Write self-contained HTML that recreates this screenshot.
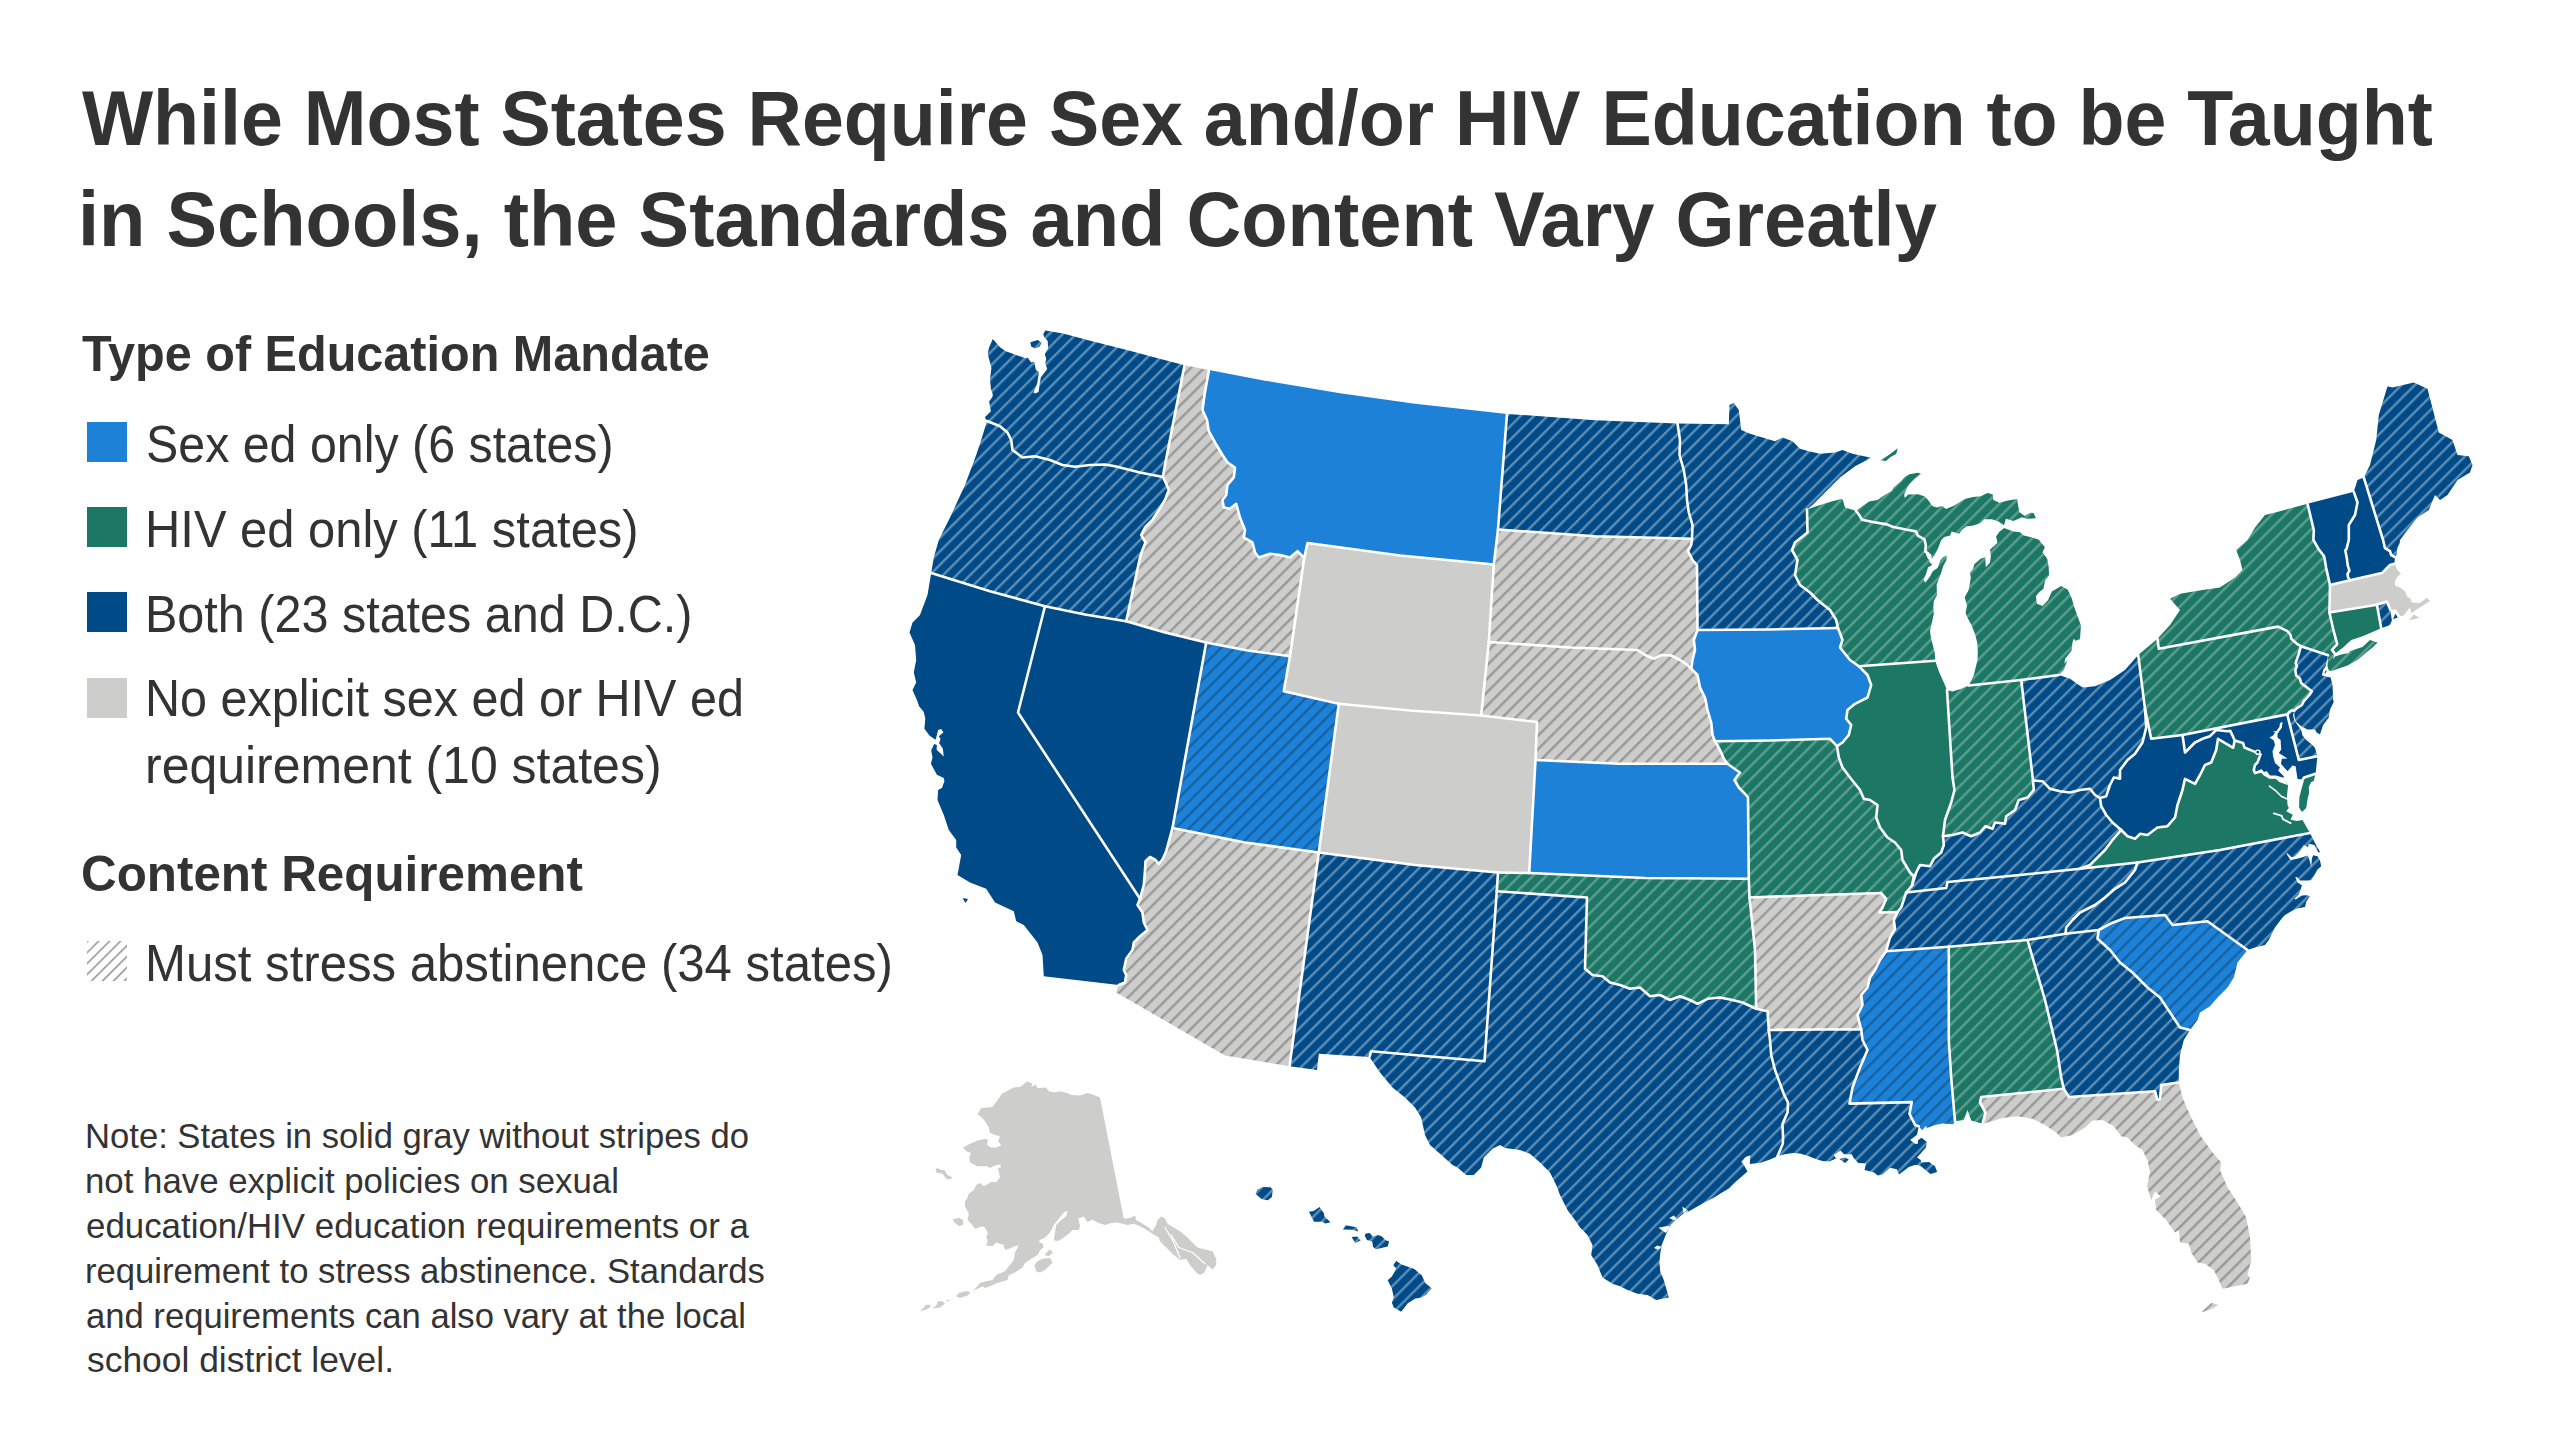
<!DOCTYPE html>
<html lang="en">
<head>
<meta charset="utf-8">
<title>While Most States Require Sex and/or HIV Education to be Taught in Schools, the Standards and Content Vary Greatly</title>
<style>
html,body{margin:0;padding:0;background:#fff}
body{width:2560px;height:1440px;position:relative;overflow:hidden;font-family:"Liberation Sans",sans-serif;color:#333}
.ln{position:absolute;white-space:pre;transform-origin:0 0;margin:0;padding:0;display:block}
h1,h2,p,ul,li{margin:0;padding:0;list-style:none;font-weight:normal}
.sw{position:absolute;left:87px;width:40px;height:40px}
#map{position:absolute;left:0;top:0;width:2560px;height:1440px}
#t1{left:82.00px;top:70.71px;font-size:78.49px;line-height:94.19px;font-weight:bold;transform:scaleX(0.9598)}
#t2{left:78.00px;top:171.71px;font-size:78.49px;line-height:94.19px;font-weight:bold;transform:scaleX(0.9665)}
#h1{left:82.00px;top:323.53px;font-size:50.15px;line-height:60.18px;font-weight:bold;transform:scaleX(0.9687)}
#l1{left:146.00px;top:414.16px;font-size:51.6px;line-height:61.92px;font-weight:normal;transform:scaleX(0.9370)}
#l2{left:145.00px;top:499.16px;font-size:51.6px;line-height:61.92px;font-weight:normal;transform:scaleX(0.9474)}
#l3{left:145.00px;top:584.16px;font-size:51.6px;line-height:61.92px;font-weight:normal;transform:scaleX(0.9404)}
#l4{left:145.00px;top:668.16px;font-size:51.6px;line-height:61.92px;font-weight:normal;transform:scaleX(0.9408)}
#l5{left:145.00px;top:735.16px;font-size:51.6px;line-height:61.92px;font-weight:normal;transform:scaleX(0.9684)}
#h2{left:81.00px;top:843.53px;font-size:50.15px;line-height:60.18px;font-weight:bold;transform:scaleX(0.9846)}
#l6{left:145.00px;top:933.16px;font-size:51.6px;line-height:61.92px;font-weight:normal;transform:scaleX(0.9519)}
#n1{left:85.00px;top:1115.67px;font-size:34.16px;line-height:40.99px;font-weight:normal;transform:scaleX(1.0136)}
#n2{left:85.00px;top:1160.67px;font-size:34.16px;line-height:40.99px;font-weight:normal;transform:scaleX(1.0189)}
#n3{left:86.00px;top:1205.67px;font-size:34.16px;line-height:40.99px;font-weight:normal;transform:scaleX(1.0209)}
#n4{left:85.00px;top:1250.67px;font-size:34.16px;line-height:40.99px;font-weight:normal;transform:scaleX(1.0145)}
#n5{left:86.00px;top:1295.67px;font-size:34.16px;line-height:40.99px;font-weight:normal;transform:scaleX(1.0134)}
#n6{left:87.00px;top:1339.67px;font-size:34.16px;line-height:40.99px;font-weight:normal;transform:scaleX(1.0366)}
</style>
</head>
<body>
<h1><span class="ln" id="t1">While Most States Require Sex and/or HIV Education to be Taught</span><span class="ln" id="t2">in Schools, the Standards and Content Vary Greatly</span></h1>

<section class="legend">
<h2><span class="ln" id="h1">Type of Education Mandate</span></h2>
<ul>
<li><i class="sw" style="top:422px;background:#1d82d7"></i><span class="ln" id="l1">Sex ed only (6 states)</span></li>
<li><i class="sw" style="top:507px;background:#1c7865"></i><span class="ln" id="l2">HIV ed only (11 states)</span></li>
<li><i class="sw" style="top:592px;background:#004b87"></i><span class="ln" id="l3">Both (23 states and D.C.)</span></li>
<li><i class="sw" style="top:677.5px;background:#cdcdcb"></i><span class="ln" id="l4">No explicit sex ed or HIV ed</span><span class="ln" id="l5">requirement (10 states)</span></li>
</ul>
<h2><span class="ln" id="h2">Content Requirement</span></h2>
<ul>
<li><svg class="sw" style="top:941px" width="40" height="40" viewBox="0 0 40 40"><rect width="40" height="40" fill="url(#hatchL)"/></svg><span class="ln" id="l6">Must stress abstinence (34 states)</span></li>
</ul>
</section>

<p class="note"><span class="ln" id="n1">Note: States in solid gray without stripes do</span><span class="ln" id="n2">not have explicit policies on sexual</span><span class="ln" id="n3">education/HIV education requirements or a</span><span class="ln" id="n4">requirement to stress abstinence. Standards</span><span class="ln" id="n5">and requirements can also vary at the local</span><span class="ln" id="n6">school district level.</span></p>

<svg id="map" xmlns="http://www.w3.org/2000/svg" width="2560" height="1440" viewBox="0 0 2560 1440" role="img" aria-label="Map of United States sex and HIV education mandates by state">
<defs>
<pattern id="hatchL" width="7.73" height="7.73" patternUnits="userSpaceOnUse" patternTransform="rotate(45) translate(4.6 0)"><rect x="3" width="1.4" height="7.73" fill="#8a8a8a"/></pattern>
<pattern id="h-gy" width="9.54" height="9.54" patternUnits="userSpaceOnUse" patternTransform="rotate(45)"><rect width="9.54" height="9.54" fill="#cdcdcb"/><rect x="3.92" width="2.3" height="9.54" fill="#969696"/></pattern>
<pattern id="h-db" width="9.54" height="9.54" patternUnits="userSpaceOnUse" patternTransform="rotate(45)"><rect width="9.54" height="9.54" fill="#004b87"/><rect x="3.92" width="2.3" height="9.54" fill="#6090b8"/></pattern>
<pattern id="h-gr" width="9.54" height="9.54" patternUnits="userSpaceOnUse" patternTransform="rotate(45)"><rect width="9.54" height="9.54" fill="#1c7865"/><rect x="3.92" width="2.3" height="9.54" fill="#5f9f93"/></pattern>
<pattern id="h-lb" width="9.54" height="9.54" patternUnits="userSpaceOnUse" patternTransform="rotate(45)"><rect width="9.54" height="9.54" fill="#1d82d7"/><rect x="3.92" width="2.3" height="9.54" fill="#15609f"/></pattern>
</defs>
<g stroke="none">
<path d="M987.0,421.0 984.8,417.3 990.9,411.2 989.1,401.4 992.3,397.2 992.8,394.4 990.9,388.8 990.0,379.4 991.4,368.1 990.0,362.5 987.7,354.1 989.1,347.5 992.8,339.1 1000.3,347.5 1005.9,351.2 1016.2,355.0 1025.6,358.3 1027.5,357.6 1031.2,362.5 1034.1,361.4 1035.9,370.0 1038.9,372.1 1037.3,383.1 1033.6,392.5 1035.0,393.6 1038.6,391.9 1039.5,385.0 1040.8,377.5 1047.2,369.1 1045.3,363.4 1046.2,358.8 1044.8,354.1 1048.1,348.4 1047.7,340.9 1044.4,337.2 1043.2,334.2 1045.3,330.6 1063.1,333.5 1091.2,341.0 1128.8,350.4 1156.9,357.9 1184.5,365.2 1164.0,470.0 1163.0,477.0 1140.0,472.5 1115.0,466.2 1105.0,464.5 1090.0,465.0 1075.0,466.8 1062.5,465.0 1050.0,460.0 1035.0,456.2 1022.5,457.5 1012.5,450.0 1011.2,440.0 1007.5,432.5 1000.0,426.2 993.8,423.8Z" fill="url(#h-db)"><title>Washington</title></path>
<path d="M987.0,421.0 993.8,423.8 1000.0,426.2 1007.5,432.5 1011.2,440.0 1012.5,450.0 1022.5,457.5 1035.0,456.2 1050.0,460.0 1062.5,465.0 1075.0,466.8 1090.0,465.0 1105.0,464.5 1115.0,466.2 1140.0,472.5 1163.0,477.0 1166.2,483.8 1168.8,490.0 1165.0,500.0 1158.8,510.0 1152.5,520.0 1145.0,527.5 1141.2,535.0 1145.5,542.5 1142.5,550.0 1140.0,557.5 1126.2,621.2 1085.0,614.5 1045.0,606.2 990.0,591.2 931.2,573.0 933.8,557.5 938.8,540.0 950.0,517.5 965.0,485.0 976.2,455.0 981.2,440.0Z" fill="url(#h-db)"><title>Oregon</title></path>
<path d="M931.2,573.0 990.0,591.2 1045.0,606.2 1018.0,712.5 1140.0,898.8 1137.5,905.0 1142.5,912.5 1143.8,922.5 1147.5,930.0 1140.0,936.2 1133.8,942.5 1132.5,950.0 1126.2,958.8 1123.8,970.0 1126.2,975.0 1125.0,982.5 1118.8,985.0 1043.8,976.2 1042.5,955.0 1037.5,942.5 1023.8,925.0 1016.2,921.2 1013.8,911.2 995.0,902.5 986.2,888.8 970.0,882.5 957.5,875.0 961.2,855.0 956.2,847.5 956.2,840.0 948.8,830.0 943.8,815.0 937.5,800.0 938.1,790.0 941.9,788.1 944.4,781.2 943.8,778.1 936.9,774.7 930.9,763.8 932.5,757.5 931.2,750.6 934.1,744.1 936.9,745.0 936.6,749.7 943.8,756.6 942.8,748.4 939.1,743.1 940.6,739.1 938.8,736.2 943.4,732.5 941.2,729.1 938.1,730.0 935.9,739.1 935.0,739.4 929.4,735.6 924.4,728.8 925.3,718.8 923.8,711.9 919.1,706.2 916.9,700.0 912.5,690.0 916.2,682.5 913.8,672.5 916.2,660.0 915.0,645.0 909.5,632.5 912.5,622.5 920.0,615.0 927.5,595.0Z" fill="#004b87"><title>California</title></path>
<path d="M1045.0,606.2 1085.0,614.5 1126.2,621.2 1165.0,632.5 1206.2,642.5 1172.5,828.0 1166.2,851.2 1162.5,859.5 1158.8,863.8 1155.5,860.0 1150.0,857.0 1145.5,861.2 1145.0,870.0 1143.8,885.0 1140.0,898.8 1018.0,712.5Z" fill="#004b87"><title>Nevada</title></path>
<path d="M1184.5,365.2 1209.0,369.9 1204.5,395.0 1202.5,410.0 1207.0,420.0 1208.8,431.2 1215.0,442.5 1222.5,455.0 1227.5,462.5 1235.0,467.5 1233.8,477.5 1227.5,485.0 1226.2,495.0 1222.5,500.0 1223.8,507.5 1230.0,508.8 1236.2,503.8 1240.0,517.5 1245.0,530.0 1243.8,537.5 1252.5,542.5 1255.0,552.5 1258.8,557.5 1270.0,553.8 1280.0,555.0 1290.0,557.5 1297.5,551.2 1304.2,558.0 1290.0,656.2 1247.5,650.5 1206.2,642.5 1165.0,632.5 1126.2,621.2 1140.0,557.5 1142.5,550.0 1145.5,542.5 1141.2,535.0 1145.0,527.5 1152.5,520.0 1158.8,510.0 1165.0,500.0 1168.8,490.0 1166.2,483.8 1163.0,477.0 1164.0,470.0Z" fill="url(#h-gy)"><title>Idaho</title></path>
<path d="M1209.0,369.9 1265.0,380.7 1340.0,393.2 1415.0,403.7 1507.0,413.9 1498.0,529.5 1493.8,564.5 1400.0,555.5 1307.5,543.0 1304.2,558.0 1297.5,551.2 1290.0,557.5 1280.0,555.0 1270.0,553.8 1258.8,557.5 1255.0,552.5 1252.5,542.5 1243.8,537.5 1245.0,530.0 1240.0,517.5 1236.2,503.8 1230.0,508.8 1223.8,507.5 1222.5,500.0 1226.2,495.0 1227.5,485.0 1233.8,477.5 1235.0,467.5 1227.5,462.5 1222.5,455.0 1215.0,442.5 1208.8,431.2 1207.0,420.0 1202.5,410.0 1204.5,395.0Z" fill="#1d82d7"><title>Montana</title></path>
<path d="M1304.2,558.0 1307.5,543.0 1400.0,555.5 1493.8,564.5 1488.8,642.0 1481.2,715.5 1410.0,710.5 1338.8,703.8 1283.8,691.2 1290.0,656.2Z" fill="#cdcdcb"><title>Wyoming</title></path>
<path d="M1206.2,642.5 1247.5,650.5 1290.0,656.2 1283.8,691.2 1338.8,703.8 1318.8,852.5 1245.0,842.5 1172.5,828.0Z" fill="url(#h-lb)"><title>Utah</title></path>
<path d="M1140.0,898.8 1143.8,885.0 1145.0,870.0 1145.5,861.2 1150.0,857.0 1155.5,860.0 1158.8,863.8 1162.5,859.5 1166.2,851.2 1172.5,828.0 1245.0,842.5 1318.8,852.5 1289.5,1066.2 1225.0,1055.5 1116.2,992.5 1118.8,985.0 1125.0,982.5 1126.2,975.0 1123.8,970.0 1126.2,958.8 1132.5,950.0 1133.8,942.5 1140.0,936.2 1147.5,930.0 1143.8,922.5 1142.5,912.5 1137.5,905.0Z" fill="url(#h-gy)"><title>Arizona</title></path>
<path d="M1338.8,703.8 1410.0,710.5 1481.2,715.5 1537.0,722.0 1535.5,760.0 1529.2,873.0 1498.0,872.5 1415.0,865.0 1318.8,852.5Z" fill="#cdcdcb"><title>Colorado</title></path>
<path d="M1318.8,852.5 1415.0,865.0 1498.0,872.5 1496.8,891.2 1484.5,1061.2 1371.2,1051.2 1369.5,1057.0 1318.8,1053.8 1317.0,1070.0 1289.5,1066.2Z" fill="url(#h-db)"><title>New Mexico</title></path>
<path d="M1507.0,413.9 1595.0,420.2 1677.5,423.5 1680.0,440.0 1679.5,455.0 1683.8,470.0 1686.2,485.0 1687.0,500.0 1688.8,512.5 1692.5,525.0 1692.0,538.8 1595.0,536.2 1498.0,529.5Z" fill="url(#h-db)"><title>North Dakota</title></path>
<path d="M1498.0,529.5 1595.0,536.2 1692.0,538.8 1691.2,545.0 1688.0,551.2 1692.5,560.0 1697.0,565.0 1697.5,630.0 1693.8,640.0 1695.0,650.0 1692.5,660.0 1691.2,668.8 1687.5,665.0 1680.0,660.0 1671.2,655.5 1661.2,655.0 1653.8,658.8 1645.0,655.0 1637.5,650.0 1570.0,647.5 1488.8,642.0 1493.8,564.5Z" fill="url(#h-gy)"><title>South Dakota</title></path>
<path d="M1488.8,642.0 1570.0,647.5 1637.5,650.0 1645.0,655.0 1653.8,658.8 1661.2,655.0 1671.2,655.5 1680.0,660.0 1687.5,665.0 1691.2,668.8 1697.5,675.0 1700.0,687.5 1705.0,697.5 1707.5,710.0 1711.2,722.5 1712.5,735.0 1715.0,741.2 1720.0,750.0 1723.8,758.8 1727.5,763.8 1620.0,763.8 1535.5,760.0 1537.0,722.0 1481.2,715.5Z" fill="url(#h-gy)"><title>Nebraska</title></path>
<path d="M1535.5,760.0 1620.0,763.8 1727.5,763.8 1736.2,770.0 1740.0,772.5 1734.5,780.0 1738.8,787.5 1745.0,793.8 1748.0,797.5 1748.8,878.8 1645.0,878.0 1529.2,873.0Z" fill="#1d82d7"><title>Kansas</title></path>
<path d="M1498.0,872.5 1529.2,873.0 1645.0,878.0 1748.8,878.8 1749.5,897.5 1755.0,950.0 1756.2,1008.8 1742.5,1002.5 1732.5,1000.0 1720.0,997.5 1707.5,998.8 1697.5,1003.8 1690.0,1000.0 1680.0,996.2 1670.0,1000.0 1660.0,995.0 1650.0,996.2 1640.0,987.5 1630.0,988.8 1620.0,985.0 1610.0,982.5 1602.5,976.2 1592.5,975.0 1585.0,968.8 1587.0,897.5 1496.8,891.2Z" fill="url(#h-gr)"><title>Oklahoma</title></path>
<path d="M1369.5,1057.0 1371.2,1051.2 1484.5,1061.2 1496.8,891.2 1587.0,897.5 1585.0,968.8 1592.5,975.0 1602.5,976.2 1610.0,982.5 1620.0,985.0 1630.0,988.8 1640.0,987.5 1650.0,996.2 1660.0,995.0 1670.0,1000.0 1680.0,996.2 1690.0,1000.0 1697.5,1003.8 1707.5,998.8 1720.0,997.5 1732.5,1000.0 1742.5,1002.5 1756.2,1008.8 1767.5,1011.2 1768.8,1030.0 1770.0,1040.0 1771.2,1055.0 1775.0,1070.0 1784.2,1095.0 1788.0,1102.5 1787.6,1112.2 1782.4,1124.2 1783.1,1137.0 1782.8,1143.8 1777.5,1156.2 1770.0,1159.4 1760.6,1162.7 1749.8,1164.1 1750.3,1155.2 1745.6,1157.0 1741.4,1161.7 1743.8,1165.0 1747.5,1171.6 1740.9,1177.2 1735.3,1181.9 1728.8,1188.4 1721.2,1193.1 1713.8,1197.8 1704.4,1202.5 1697.8,1206.2 1691.2,1210.0 1683.8,1213.8 1676.2,1219.4 1670.6,1225.0 1665.9,1234.4 1662.2,1243.8 1660.3,1253.1 1659.4,1262.5 1660.3,1271.9 1663.8,1280.0 1668.8,1297.5 1656.2,1300.0 1647.5,1295.0 1637.5,1293.8 1627.5,1290.0 1620.0,1286.2 1612.5,1283.8 1602.5,1277.5 1597.5,1265.0 1591.2,1255.0 1592.5,1245.0 1587.5,1235.0 1580.0,1227.5 1575.0,1220.0 1567.5,1210.0 1560.0,1195.0 1556.2,1185.0 1550.0,1172.5 1540.0,1162.5 1530.0,1153.8 1520.0,1150.0 1505.0,1148.0 1500.0,1145.0 1492.5,1148.8 1483.8,1157.5 1481.2,1167.5 1473.8,1175.0 1466.2,1175.0 1457.5,1167.5 1452.5,1165.0 1440.0,1153.8 1430.0,1145.0 1425.0,1135.0 1421.2,1117.5 1415.0,1107.5 1405.0,1097.5 1392.5,1087.5 1380.0,1072.5Z" fill="url(#h-db)"><title>Texas</title></path>
<path d="M1677.5,423.5 1728.8,424.2 1729.5,405.0 1733.8,403.0 1738.8,410.0 1741.2,430.0 1750.0,433.8 1762.5,437.5 1775.0,441.2 1782.5,437.5 1792.5,441.2 1800.0,448.8 1808.8,451.2 1820.0,453.8 1835.0,452.5 1842.5,450.0 1852.5,453.8 1871.2,457.8 1855.0,466.2 1840.0,477.5 1825.0,492.5 1812.5,505.0 1807.0,509.5 1807.5,532.5 1795.0,542.5 1792.0,550.0 1797.5,560.0 1795.0,575.0 1800.0,585.0 1810.0,592.5 1817.5,600.0 1830.0,610.0 1836.2,620.0 1838.0,628.0 1770.0,629.5 1697.5,630.0 1697.0,565.0 1692.5,560.0 1688.0,551.2 1691.2,545.0 1692.0,538.8 1692.5,525.0 1688.8,512.5 1687.0,500.0 1686.2,485.0 1683.8,470.0 1679.5,455.0 1680.0,440.0Z" fill="url(#h-db)"><title>Minnesota</title></path>
<path d="M1697.5,630.0 1770.0,629.5 1838.0,628.0 1842.5,640.0 1840.0,647.5 1850.0,660.0 1858.8,666.2 1867.5,675.0 1871.2,685.0 1867.5,697.5 1855.0,703.8 1847.5,710.0 1846.2,718.8 1851.2,725.0 1848.8,735.0 1842.5,742.5 1837.0,746.2 1830.0,738.8 1770.0,740.5 1715.0,741.2 1712.5,735.0 1711.2,722.5 1707.5,710.0 1705.0,697.5 1700.0,687.5 1697.5,675.0 1691.2,668.8 1692.5,660.0 1695.0,650.0 1693.8,640.0Z" fill="#1d82d7"><title>Iowa</title></path>
<path d="M1715.0,741.2 1770.0,740.5 1830.0,738.8 1837.0,746.2 1838.8,757.5 1842.5,767.5 1850.0,777.5 1860.0,790.0 1863.8,798.8 1870.0,800.0 1877.5,805.0 1876.2,817.5 1880.0,827.5 1887.5,837.5 1895.0,842.5 1901.2,850.0 1902.5,860.0 1910.0,872.5 1913.8,876.2 1912.0,885.5 1906.2,892.5 1901.2,907.5 1897.5,912.0 1879.5,912.5 1882.5,907.5 1886.2,898.8 1881.2,893.0 1820.0,895.0 1749.5,897.5 1748.8,878.8 1748.0,797.5 1745.0,793.8 1738.8,787.5 1734.5,780.0 1740.0,772.5 1736.2,770.0 1727.5,763.8 1723.8,758.8 1720.0,750.0Z" fill="url(#h-gr)"><title>Missouri</title></path>
<path d="M1749.5,897.5 1820.0,895.0 1881.2,893.0 1886.2,898.8 1882.5,907.5 1879.5,912.5 1897.5,912.0 1893.8,920.0 1895.0,928.8 1890.0,937.5 1887.5,946.2 1886.2,951.2 1880.0,960.0 1875.0,970.0 1870.0,977.5 1867.5,987.5 1861.2,995.0 1862.5,1005.0 1857.5,1015.0 1860.0,1025.0 1861.2,1029.5 1820.0,1029.5 1768.8,1030.0 1767.5,1011.2 1756.2,1008.8 1755.0,950.0Z" fill="url(#h-gy)"><title>Arkansas</title></path>
<path d="M1768.8,1030.0 1820.0,1029.5 1861.2,1029.5 1862.5,1040.0 1867.5,1050.0 1863.8,1058.8 1860.0,1067.5 1856.2,1077.5 1852.5,1087.5 1849.5,1103.6 1911.8,1102.1 1909.5,1113.8 1915.1,1125.0 1918.8,1126.2 1917.0,1134.8 1910.2,1140.0 1915.5,1144.1 1917.8,1143.8 1918.1,1140.0 1921.5,1137.8 1926.8,1141.9 1926.0,1147.5 1917.0,1157.6 1920.8,1159.9 1921.5,1162.5 1929.0,1162.1 1935.0,1166.2 1937.2,1171.9 1930.5,1174.1 1920.0,1165.5 1914.8,1165.1 1908.8,1167.0 1899.0,1174.5 1896.8,1169.2 1890.0,1167.8 1882.5,1174.5 1878.0,1175.6 1873.5,1172.2 1864.5,1170.0 1866.0,1163.6 1858.5,1162.9 1857.0,1161.8 1853.2,1157.2 1851.8,1154.2 1844.2,1154.2 1840.5,1150.5 1833.8,1155.0 1836.0,1158.4 1829.2,1161.4 1822.5,1161.0 1815.0,1158.8 1807.5,1155.8 1800.0,1153.5 1792.5,1153.1 1785.0,1154.2 1777.5,1156.2 1782.8,1143.8 1783.1,1137.0 1782.4,1124.2 1787.6,1112.2 1788.0,1102.5 1784.2,1095.0 1775.0,1070.0 1771.2,1055.0 1770.0,1040.0Z" fill="url(#h-db)"><title>Louisiana</title></path>
<path d="M1807.0,509.5 1820.0,505.0 1832.5,501.2 1842.5,498.8 1845.0,507.5 1855.9,510.8 1859.2,515.0 1862.0,519.7 1872.8,522.0 1886.9,524.4 1892.5,526.7 1905.6,529.5 1915.9,531.4 1917.8,535.6 1924.4,539.4 1925.8,545.0 1925.3,551.6 1928.1,553.4 1929.1,558.1 1927.2,554.1 1930.0,555.0 1930.9,562.0 1931.9,565.3 1928.1,567.2 1925.8,574.7 1923.4,579.4 1925.3,582.7 1930.0,576.6 1932.8,570.9 1937.5,568.1 1940.3,560.6 1943.1,557.3 1946.9,555.5 1946.4,560.2 1943.1,566.2 1941.2,572.8 1939.4,577.5 1936.6,585.0 1937.0,595.3 1933.8,600.9 1933.3,607.5 1933.8,614.1 1931.9,622.5 1930.0,630.9 1930.9,637.5 1932.8,645.0 1934.7,652.5 1935.2,660.8 1858.8,666.2 1850.0,660.0 1840.0,647.5 1842.5,640.0 1838.0,628.0 1836.2,620.0 1830.0,610.0 1817.5,600.0 1810.0,592.5 1800.0,585.0 1795.0,575.0 1797.5,560.0 1792.0,550.0 1795.0,542.5 1807.5,532.5Z" fill="url(#h-gr)"><title>Wisconsin</title></path>
<path d="M1855.9,510.8 1863.4,505.6 1869.1,501.4 1877.5,500.0 1885.0,494.8 1891.6,491.1 1893.4,487.8 1900.9,481.2 1904.7,477.0 1909.4,474.2 1917.8,472.8 1921.1,473.8 1915.0,478.4 1909.4,484.1 1906.6,488.8 1904.2,494.4 1904.7,498.1 1908.4,494.4 1917.8,494.2 1924.4,496.2 1928.1,500.0 1932.3,506.1 1936.6,507.5 1942.2,506.1 1945.9,508.9 1954.4,505.6 1964.7,499.1 1973.1,497.0 1980.6,496.2 1987.7,493.0 1992.8,494.4 1993.3,500.0 1999.4,502.8 2007.8,500.5 2017.2,499.1 2018.1,505.6 2019.5,512.2 2024.7,515.9 2030.3,512.7 2033.6,513.1 2035.9,518.3 2026.6,518.8 2021.9,517.3 2013.4,521.1 2005.9,518.8 2004.1,525.3 1998.4,521.6 1991.9,519.2 1984.4,519.2 1979.7,523.4 1972.2,525.8 1966.6,526.2 1961.9,530.0 1959.1,533.8 1951.6,531.4 1950.2,535.6 1944.1,537.0 1940.3,541.2 1941.2,540.0 1938.4,547.5 1934.7,555.0 1931.9,558.8 1930.9,562.0 1930.0,555.0 1927.2,554.1 1929.1,558.1 1928.1,553.4 1925.3,551.6 1925.8,545.0 1924.4,539.4 1917.8,535.6 1915.9,531.4 1905.6,529.5 1892.5,526.7 1886.9,524.4 1872.8,522.0 1862.0,519.7 1859.2,515.0Z" fill="url(#h-gr)"><title>Michigan</title></path>
<path d="M1968.8,685.5 1973.8,675.0 1977.5,660.0 1977.8,652.5 1977.3,643.1 1975.0,633.8 1971.2,624.4 1967.5,617.8 1965.6,613.1 1967.0,605.6 1964.7,597.2 1968.4,590.6 1969.8,584.1 1970.8,577.5 1969.8,572.8 1973.1,569.1 1974.1,564.4 1976.9,562.0 1980.6,558.8 1985.3,557.3 1985.8,567.2 1990.0,562.5 1990.9,555.9 1990.0,549.4 1994.7,545.6 1997.5,542.8 1996.1,536.6 1999.4,531.4 2004.1,528.1 2013.4,531.4 2020.0,532.3 2023.8,535.6 2032.2,537.5 2038.8,539.8 2045.3,547.8 2044.8,547.5 2042.5,552.2 2047.2,558.8 2048.6,566.2 2049.1,575.6 2045.3,580.3 2043.4,588.8 2038.8,592.5 2035.9,596.2 2036.9,603.8 2042.5,606.1 2048.1,600.0 2051.9,591.6 2061.2,585.9 2067.8,589.7 2071.6,598.1 2074.4,607.5 2078.1,617.8 2080.9,625.3 2080.0,639.4 2075.3,640.8 2073.9,638.4 2072.5,642.2 2071.6,650.6 2065.0,659.1 2064.5,663.8 2067.5,660.0 2063.8,670.0 2058.8,675.0 2021.2,680.0Z" fill="url(#h-gr)"><title>Michigan</title></path>
<path d="M1858.8,666.2 1935.2,660.8 1938.8,671.2 1943.8,682.5 1947.0,690.0 1952.5,777.5 1954.5,790.0 1951.2,802.5 1945.0,820.0 1943.0,836.2 1943.8,845.0 1941.2,852.5 1933.8,858.8 1930.0,866.2 1920.0,865.0 1916.2,872.5 1912.0,885.5 1913.8,876.2 1910.0,872.5 1902.5,860.0 1901.2,850.0 1895.0,842.5 1887.5,837.5 1880.0,827.5 1876.2,817.5 1877.5,805.0 1870.0,800.0 1863.8,798.8 1860.0,790.0 1850.0,777.5 1842.5,767.5 1838.8,757.5 1837.0,746.2 1842.5,742.5 1848.8,735.0 1851.2,725.0 1846.2,718.8 1847.5,710.0 1855.0,703.8 1867.5,697.5 1871.2,685.0 1867.5,675.0Z" fill="#1c7865"><title>Illinois</title></path>
<path d="M1947.0,690.0 1952.5,691.5 1961.2,688.8 1968.8,685.5 2021.2,680.0 2033.0,780.5 2033.8,790.0 2027.5,797.5 2018.8,800.0 2015.0,810.0 2006.2,816.2 2005.0,823.8 1995.0,822.5 1992.5,828.8 1985.5,826.2 1980.0,832.5 1971.2,836.2 1962.5,832.5 1952.5,835.0 1943.0,836.2 1945.0,820.0 1951.2,802.5 1954.5,790.0 1952.5,777.5Z" fill="url(#h-gr)"><title>Indiana</title></path>
<path d="M2021.2,680.0 2058.8,675.0 2070.0,678.8 2082.5,687.5 2095.0,686.2 2110.0,680.0 2125.0,670.0 2138.2,655.0 2145.0,708.8 2146.2,727.5 2142.5,742.5 2135.0,753.8 2127.5,760.0 2120.0,770.0 2120.0,778.8 2113.8,777.5 2110.0,785.0 2106.2,796.2 2100.0,798.0 2095.0,795.0 2090.0,788.8 2080.0,790.0 2070.0,792.5 2060.0,791.2 2050.0,788.8 2042.5,781.2 2033.0,780.5Z" fill="url(#h-db)"><title>Ohio</title></path>
<path d="M1943.0,836.2 1952.5,835.0 1962.5,832.5 1971.2,836.2 1980.0,832.5 1985.5,826.2 1992.5,828.8 1995.0,822.5 2005.0,823.8 2006.2,816.2 2015.0,810.0 2018.8,800.0 2027.5,797.5 2033.8,790.0 2033.0,780.5 2042.5,781.2 2050.0,788.8 2060.0,791.2 2070.0,792.5 2080.0,790.0 2090.0,788.8 2095.0,795.0 2100.0,798.0 2101.2,806.2 2106.2,815.0 2112.5,822.5 2121.2,830.0 2112.5,840.0 2105.0,850.0 2095.0,860.0 2090.0,865.0 2080.0,868.8 2020.0,875.0 1947.5,882.0 1946.2,888.0 1906.2,892.5 1912.0,885.5 1916.2,872.5 1920.0,865.0 1930.0,866.2 1933.8,858.8 1941.2,852.5 1943.8,845.0Z" fill="url(#h-db)"><title>Kentucky</title></path>
<path d="M1906.2,892.5 1946.2,888.0 1947.5,882.0 2020.0,875.0 2080.0,868.8 2137.5,862.5 2135.0,870.0 2125.0,882.5 2115.0,888.8 2105.0,897.5 2095.0,905.0 2080.0,912.5 2072.5,920.0 2066.2,927.5 2065.5,933.8 2027.5,940.0 1948.8,946.8 1886.2,951.2 1887.5,946.2 1890.0,937.5 1895.0,928.8 1893.8,920.0 1897.5,912.0 1901.2,907.5Z" fill="url(#h-db)"><title>Tennessee</title></path>
<path d="M1886.2,951.2 1948.8,946.8 1948.8,1040.0 1951.2,1077.5 1955.0,1121.2 1953.0,1124.2 1942.5,1123.5 1935.0,1125.0 1926.8,1128.0 1926.0,1125.8 1922.2,1130.2 1918.8,1126.2 1915.1,1125.0 1909.5,1113.8 1911.8,1102.1 1849.5,1103.6 1852.5,1087.5 1856.2,1077.5 1860.0,1067.5 1863.8,1058.8 1867.5,1050.0 1862.5,1040.0 1861.2,1029.5 1860.0,1025.0 1857.5,1015.0 1862.5,1005.0 1861.2,995.0 1867.5,987.5 1870.0,977.5 1875.0,970.0 1880.0,960.0Z" fill="url(#h-lb)"><title>Mississippi</title></path>
<path d="M1948.8,946.8 2027.5,940.0 2045.0,1000.0 2057.0,1050.0 2061.2,1077.5 2063.8,1088.8 1981.2,1097.0 1980.0,1102.5 1985.5,1112.5 1982.5,1123.8 1971.2,1120.5 1967.5,1110.0 1963.8,1120.0 1955.0,1121.2 1951.2,1077.5 1948.8,1040.0Z" fill="url(#h-gr)"><title>Alabama</title></path>
<path d="M2027.5,940.0 2065.5,933.8 2098.8,930.0 2097.5,938.8 2110.0,950.0 2120.0,962.5 2132.5,972.5 2147.5,987.5 2160.0,997.5 2170.0,1012.5 2180.0,1027.5 2190.0,1030.0 2183.8,1040.0 2180.0,1055.0 2178.8,1070.0 2178.8,1082.5 2161.2,1085.0 2160.0,1099.2 2157.5,1100.0 2155.0,1091.2 2068.8,1097.0 2063.8,1088.8 2061.2,1077.5 2057.0,1050.0 2045.0,1000.0Z" fill="url(#h-db)"><title>Georgia</title></path>
<path d="M2063.8,1088.8 2068.8,1097.0 2155.0,1091.2 2157.5,1100.0 2160.0,1099.2 2161.2,1085.0 2178.8,1082.5 2182.5,1097.5 2190.0,1115.0 2200.0,1135.0 2212.5,1152.5 2221.2,1162.5 2220.0,1170.0 2227.5,1187.5 2237.5,1202.5 2246.2,1217.5 2250.0,1237.5 2251.2,1260.0 2247.5,1275.0 2250.0,1277.5 2247.5,1283.8 2235.0,1286.2 2222.5,1288.8 2218.8,1280.0 2213.8,1270.0 2205.0,1263.8 2197.5,1262.5 2191.2,1252.5 2188.8,1243.8 2180.0,1242.5 2178.8,1230.0 2175.0,1232.5 2166.2,1220.0 2156.2,1210.0 2155.0,1200.0 2160.5,1196.2 2155.0,1191.2 2151.2,1200.0 2147.0,1186.2 2150.0,1172.5 2147.5,1160.0 2142.5,1150.0 2135.0,1145.0 2127.5,1137.5 2121.2,1136.2 2113.8,1126.2 2102.5,1120.0 2092.5,1120.5 2085.0,1127.5 2072.5,1135.0 2061.2,1137.5 2056.2,1132.5 2045.0,1125.0 2032.5,1118.8 2017.5,1116.2 2002.5,1118.0 1987.5,1122.5 1982.5,1123.8 1985.5,1112.5 1980.0,1102.5 1981.2,1097.0Z" fill="url(#h-gy)"><title>Florida</title></path>
<path d="M2098.8,930.0 2110.0,923.8 2125.0,918.0 2165.0,915.0 2172.5,925.0 2207.5,921.2 2247.5,950.0 2237.5,962.5 2233.8,977.5 2227.5,987.5 2217.5,997.5 2210.0,1006.2 2200.0,1012.5 2197.5,1020.0 2190.0,1030.0 2180.0,1027.5 2170.0,1012.5 2160.0,997.5 2147.5,987.5 2132.5,972.5 2120.0,962.5 2110.0,950.0 2097.5,938.8Z" fill="url(#h-lb)"><title>South Carolina</title></path>
<path d="M2137.5,862.5 2220.0,850.0 2310.0,833.0 2311.2,835.6 2315.0,843.1 2320.0,851.9 2318.4,852.5 2314.4,845.0 2308.8,843.8 2308.1,846.9 2303.8,845.3 2301.6,848.8 2298.8,852.5 2295.0,856.2 2291.9,857.5 2288.8,854.4 2286.2,852.5 2287.5,855.6 2290.6,860.0 2296.2,859.1 2302.5,857.2 2307.8,855.6 2309.4,860.0 2311.2,866.6 2311.9,858.8 2313.1,855.3 2317.5,856.2 2320.0,860.6 2321.2,866.2 2317.5,869.4 2314.4,875.0 2311.2,880.3 2307.5,880.6 2300.0,880.6 2296.9,876.9 2295.3,876.9 2297.5,882.5 2301.9,885.3 2300.6,890.0 2298.8,894.4 2294.4,898.8 2295.6,899.4 2301.9,895.6 2306.2,895.3 2310.0,895.9 2306.2,901.9 2305.0,906.9 2296.2,908.8 2290.0,911.9 2285.0,915.0 2282.5,917.5 2275.0,927.5 2268.8,940.0 2265.0,945.0 2255.0,947.5 2247.5,950.0 2207.5,921.2 2172.5,925.0 2165.0,915.0 2125.0,918.0 2110.0,923.8 2098.8,930.0 2065.5,933.8 2066.2,927.5 2072.5,920.0 2080.0,912.5 2095.0,905.0 2105.0,897.5 2115.0,888.8 2125.0,882.5 2135.0,870.0Z" fill="url(#h-db)"><title>North Carolina</title></path>
<path d="M2080.0,868.8 2090.0,865.0 2095.0,860.0 2105.0,850.0 2112.5,840.0 2121.2,830.0 2127.5,836.2 2135.0,838.8 2140.0,833.8 2147.5,835.0 2157.5,827.5 2167.5,826.2 2175.0,817.5 2177.5,805.0 2182.5,790.0 2185.0,778.8 2195.0,783.8 2200.0,775.0 2205.0,765.0 2211.2,762.5 2216.2,750.0 2218.0,738.8 2233.2,747.8 2234.7,740.6 2243.1,743.1 2244.4,747.5 2255.0,751.9 2260.6,754.4 2257.5,762.5 2255.0,765.0 2253.8,770.0 2255.0,773.1 2261.2,770.6 2263.8,773.8 2266.2,772.5 2269.4,776.9 2276.2,776.9 2283.1,779.1 2288.1,785.3 2286.9,796.2 2287.2,799.4 2287.5,805.0 2288.8,808.1 2286.2,811.2 2292.8,814.7 2290.6,819.7 2296.9,820.9 2302.5,820.0 2310.0,833.0 2220.0,850.0 2137.5,862.5Z" fill="#1c7865"><title>Virginia</title></path>
<path d="M2315.6,773.8 2315.0,775.9 2313.8,780.9 2311.2,781.9 2308.8,786.9 2309.1,793.1 2307.5,799.4 2306.2,808.1 2301.9,811.9 2299.1,807.5 2299.4,796.9 2301.9,787.5 2303.8,780.9 2302.8,779.5 2304.1,777.5Z" fill="#1c7865"><title>Virginia</title></path>
<path d="M2100.0,798.0 2106.2,796.2 2110.0,785.0 2113.8,777.5 2120.0,778.8 2120.0,770.0 2127.5,760.0 2135.0,753.8 2142.5,742.5 2146.2,727.5 2145.0,708.8 2151.2,738.8 2182.5,735.0 2185.0,752.5 2195.0,742.5 2202.5,738.8 2210.0,736.2 2216.2,730.0 2227.5,731.2 2230.3,730.9 2232.5,735.6 2234.7,740.6 2233.2,747.8 2218.0,738.8 2216.2,750.0 2211.2,762.5 2205.0,765.0 2200.0,775.0 2195.0,783.8 2185.0,778.8 2182.5,790.0 2177.5,805.0 2175.0,817.5 2167.5,826.2 2157.5,827.5 2147.5,835.0 2140.0,833.8 2135.0,838.8 2127.5,836.2 2121.2,830.0 2112.5,822.5 2106.2,815.0 2101.2,806.2Z" fill="#004b87"><title>West Virginia</title></path>
<path d="M2182.5,735.0 2287.2,714.4 2298.8,760.0 2317.4,756.2 2315.6,773.8 2304.1,777.5 2302.8,779.5 2297.5,778.9 2295.6,766.2 2292.5,765.6 2287.5,771.2 2280.9,763.8 2281.9,758.8 2287.5,758.4 2278.8,753.1 2281.2,749.4 2280.6,740.0 2277.5,737.5 2277.5,733.8 2281.9,727.5 2282.5,721.9 2280.0,723.1 2279.4,726.9 2276.2,731.2 2273.1,731.2 2275.0,732.5 2273.1,735.6 2269.4,737.5 2273.8,740.6 2275.0,745.0 2272.5,751.2 2273.1,756.2 2275.0,763.1 2280.0,767.5 2278.1,770.6 2283.8,776.2 2283.1,779.1 2276.2,776.9 2269.4,776.9 2266.2,772.5 2263.8,773.8 2261.2,770.6 2255.0,773.1 2253.8,770.0 2255.0,765.0 2257.5,762.5 2260.6,754.4 2255.0,751.9 2244.4,747.5 2243.1,743.1 2234.7,740.6 2232.5,735.6 2230.3,730.9 2227.5,731.2 2216.2,730.0 2210.0,736.2 2202.5,738.8 2195.0,742.5 2185.0,752.5Z" fill="#004b87"><title>Maryland</title></path>
<path d="M2287.2,714.4 2289.4,711.9 2291.9,710.3 2294.4,710.5 2293.1,715.0 2294.1,720.0 2297.5,725.0 2301.2,730.0 2302.5,735.6 2306.9,740.6 2311.9,744.4 2315.0,748.1 2317.4,756.2 2298.8,760.0Z" fill="url(#h-db)"><title>Delaware</title></path>
<path d="M2138.2,655.0 2157.5,638.8 2158.8,648.8 2278.1,626.6 2287.5,631.2 2290.6,635.0 2291.2,638.8 2296.9,643.8 2300.9,646.2 2298.8,653.8 2295.6,663.1 2296.9,666.2 2295.3,670.0 2296.2,675.6 2300.0,678.8 2301.2,683.1 2311.9,691.2 2309.4,695.0 2305.0,700.0 2303.8,701.2 2301.9,705.0 2296.9,708.1 2294.4,710.5 2291.9,710.3 2289.4,711.9 2287.2,714.4 2182.5,735.0 2151.2,738.8 2145.0,708.8Z" fill="url(#h-gr)"><title>Pennsylvania</title></path>
<path d="M2300.9,646.2 2328.1,655.3 2327.2,660.0 2325.6,666.2 2323.1,670.0 2321.9,675.6 2330.6,677.5 2332.5,685.0 2332.8,691.2 2333.1,700.0 2333.8,701.9 2330.0,709.4 2328.8,717.5 2323.1,725.0 2320.0,734.4 2316.6,732.5 2315.0,729.4 2307.5,729.4 2301.2,726.2 2295.6,721.2 2294.4,715.6 2294.4,710.5 2296.9,708.1 2301.9,705.0 2303.8,701.2 2305.0,700.0 2309.4,695.0 2311.9,691.2 2301.2,683.1 2300.0,678.8 2296.2,675.6 2295.3,670.0 2296.9,666.2 2295.6,663.1 2298.8,653.8Z" fill="url(#h-db)"><title>New Jersey</title></path>
<path d="M2157.5,638.8 2170.0,625.0 2180.0,610.0 2170.0,598.8 2180.0,593.8 2202.5,590.0 2220.0,587.5 2235.0,577.5 2242.5,570.0 2240.0,560.0 2236.2,550.0 2247.5,540.0 2255.0,527.5 2265.0,515.0 2280.0,511.2 2307.5,503.8 2313.8,530.0 2313.4,540.0 2318.8,549.4 2324.1,556.2 2326.2,568.1 2330.0,585.0 2329.4,612.5 2333.1,628.8 2337.2,644.1 2331.9,649.9 2335.0,653.8 2333.8,655.6 2333.2,659.4 2335.0,656.6 2341.2,654.4 2348.8,653.1 2350.0,650.9 2362.5,646.9 2370.0,640.0 2377.5,642.5 2372.5,647.5 2366.2,652.5 2357.5,660.0 2347.5,665.6 2338.1,668.8 2331.9,670.9 2328.8,670.6 2327.5,666.2 2328.1,655.3 2300.9,646.2 2296.9,643.8 2291.2,638.8 2290.6,635.0 2287.5,631.2 2278.1,626.6 2158.8,648.8Z" fill="url(#h-gr)"><title>New York</title></path>
<path d="M2307.5,503.8 2353.8,491.8 2357.5,502.5 2355.0,515.0 2348.8,525.0 2348.8,540.0 2346.6,548.8 2345.3,550.3 2346.9,558.8 2347.8,565.6 2349.4,570.6 2347.5,574.1 2348.1,577.5 2350.0,580.3 2330.0,585.0 2326.2,568.1 2324.1,556.2 2318.8,549.4 2313.4,540.0 2313.8,530.0Z" fill="#004b87"><title>Vermont</title></path>
<path d="M2353.8,491.8 2357.5,480.0 2363.8,477.5 2383.1,540.0 2385.0,548.1 2390.0,551.2 2391.2,555.0 2395.0,557.2 2394.4,563.8 2390.0,565.0 2381.9,573.1 2350.0,580.3 2348.1,577.5 2347.5,574.1 2349.4,570.6 2347.8,565.6 2346.9,558.8 2345.3,550.3 2346.6,548.8 2348.8,540.0 2348.8,525.0 2355.0,515.0 2357.5,502.5Z" fill="#004b87"><title>New Hampshire</title></path>
<path d="M2363.8,477.5 2370.0,465.0 2376.2,440.0 2378.8,415.0 2387.5,386.2 2392.5,387.5 2413.8,382.5 2427.5,388.8 2438.8,432.5 2452.5,440.0 2457.5,455.0 2468.8,456.2 2472.5,465.0 2470.0,472.5 2457.5,480.0 2447.5,495.0 2440.0,500.0 2435.0,495.0 2428.8,510.0 2417.5,517.5 2407.5,530.0 2400.0,540.0 2399.7,543.1 2397.5,547.5 2396.6,554.4 2395.0,557.2 2391.2,555.0 2390.0,551.2 2385.0,548.1 2383.1,540.0Z" fill="url(#h-db)"><title>Maine</title></path>
<path d="M2330.0,585.0 2350.0,580.3 2381.9,573.1 2390.0,565.0 2394.4,563.8 2397.5,570.0 2400.9,573.8 2397.2,576.9 2395.0,581.2 2395.0,585.6 2400.0,587.5 2405.0,591.2 2406.9,596.2 2410.6,598.8 2411.9,602.5 2420.0,603.1 2426.9,597.8 2430.0,600.9 2411.2,613.1 2410.0,607.5 2406.2,611.9 2403.8,615.6 2400.6,616.2 2396.2,609.4 2390.3,609.7 2386.9,601.6 2376.9,604.7 2329.4,612.5Z" fill="#cdcdcb"><title>Massachusetts</title></path>
<path d="M2329.4,612.5 2376.9,604.7 2381.2,628.2 2372.5,631.9 2362.5,636.2 2351.2,640.0 2343.1,647.5 2335.9,653.1 2335.0,653.8 2331.9,649.9 2337.2,644.1 2333.1,628.8Z" fill="#1c7865"><title>Connecticut</title></path>
<path d="M2376.9,604.7 2386.9,601.6 2390.3,609.7 2391.9,620.6 2390.0,625.0 2388.8,625.6 2381.2,628.2Z" fill="url(#h-db)"><title>Rhode Island</title></path>
<path d="M1030.3,342.3 1037.8,340.0 1041.6,342.8 1039.7,346.6 1035.0,348.4 1031.2,346.6Z" fill="url(#h-db)"><title>Washington</title></path>
<path d="M1880.3,460.2 1888.8,455.0 1897.7,448.2 1896.2,454.1 1890.6,456.9 1885.9,461.1Z" fill="url(#h-gr)"><title>Michigan</title></path>
<path d="M962.5,898.0 968.0,899.0 965.5,903.0Z" fill="#004b87"><title>California</title></path>
<path d="M2201.2,1312.5 2211.2,1303.0 2218.8,1305.0 2210.0,1309.5Z" fill="url(#h-gy)"><title>Florida</title></path>
<path d="M977.5,1114.4 981.2,1108.1 992.5,1106.9 997.5,1100.0 1001.9,1093.8 1013.8,1087.5 1020.0,1086.9 1027.5,1081.2 1032.5,1083.8 1031.2,1086.9 1035.6,1084.4 1037.5,1088.1 1046.2,1087.5 1048.8,1091.2 1053.8,1092.5 1060.0,1091.2 1067.5,1093.1 1071.2,1095.0 1080.0,1095.6 1087.5,1093.1 1092.5,1094.4 1100.0,1097.5 1123.8,1218.8 1130.0,1218.1 1135.0,1215.6 1136.2,1220.0 1142.5,1223.8 1148.8,1227.5 1152.5,1231.2 1156.2,1225.0 1157.5,1220.0 1161.2,1216.5 1165.0,1218.8 1167.5,1223.8 1173.8,1227.5 1180.0,1231.2 1187.5,1237.5 1192.5,1242.5 1197.5,1247.5 1205.0,1249.4 1212.5,1251.2 1216.2,1258.8 1216.2,1265.0 1212.5,1269.4 1207.5,1265.0 1204.4,1272.5 1200.0,1275.0 1196.2,1272.5 1190.0,1265.0 1186.2,1258.8 1180.0,1260.0 1173.8,1255.0 1167.5,1248.8 1160.0,1241.2 1158.8,1237.5 1152.5,1233.8 1148.8,1231.2 1142.5,1227.5 1133.8,1223.8 1127.5,1225.0 1117.5,1222.5 1111.2,1223.1 1105.0,1225.0 1098.8,1223.1 1092.5,1219.8 1087.5,1221.9 1083.8,1216.5 1078.1,1218.5 1080.0,1225.6 1078.8,1230.0 1072.5,1230.0 1068.8,1233.8 1063.8,1237.5 1060.0,1240.0 1056.2,1241.2 1053.8,1239.4 1055.0,1232.5 1056.2,1225.0 1061.2,1220.0 1066.2,1216.2 1067.5,1210.6 1063.8,1212.5 1058.8,1218.8 1053.8,1225.0 1050.0,1232.5 1045.0,1237.5 1040.0,1240.0 1038.8,1241.9 1042.5,1243.5 1043.8,1246.9 1040.0,1250.6 1037.5,1255.0 1031.2,1258.8 1025.0,1263.1 1022.5,1267.5 1015.0,1272.5 1008.8,1275.0 1007.5,1280.0 997.5,1283.1 990.0,1286.2 985.0,1288.1 982.5,1286.2 977.5,1288.8 973.1,1291.0 976.2,1287.5 980.0,1283.1 986.2,1281.2 992.5,1280.0 996.2,1275.0 1005.0,1271.2 1008.8,1266.2 1013.8,1260.0 1015.0,1252.5 1018.8,1245.6 1013.8,1246.2 1011.2,1248.1 1005.0,1250.0 1003.8,1245.0 996.2,1242.5 992.5,1246.2 986.2,1245.6 987.5,1241.2 986.2,1236.2 988.1,1233.8 985.0,1227.5 982.5,1226.2 975.0,1228.8 971.2,1223.8 967.5,1220.0 968.8,1213.8 965.0,1206.2 965.0,1201.2 967.5,1197.5 968.8,1193.8 973.8,1190.0 976.2,1185.0 980.0,1183.1 983.8,1186.2 991.2,1181.9 996.2,1181.9 1000.0,1177.5 998.8,1171.2 997.5,1168.8 1001.2,1166.9 1000.0,1164.4 995.0,1165.6 990.0,1168.1 987.5,1166.2 977.5,1166.2 970.0,1162.5 969.4,1156.2 971.2,1153.1 966.2,1151.2 963.1,1147.5 970.0,1143.8 977.5,1140.6 985.0,1139.0 988.1,1140.0 986.9,1145.0 991.2,1147.5 996.9,1147.5 1001.2,1145.0 998.1,1141.2 1000.0,1136.2 995.0,1135.0 990.0,1133.1 988.8,1127.5 985.0,1121.2 981.2,1116.9Z" fill="#cdcdcb"><title>Alaska</title></path>
<path d="M935.6,1169.4 937.5,1168.1 941.2,1170.0 944.4,1170.0 947.5,1175.0 952.5,1177.5 951.2,1178.8 946.9,1179.4 942.5,1173.8 936.2,1172.5Z" fill="#cdcdcb"><title>Alaska</title></path>
<path d="M952.5,1219.4 958.8,1217.8 963.1,1220.0 963.1,1224.4 959.4,1226.2 955.0,1223.1Z" fill="#cdcdcb"><title>Alaska</title></path>
<path d="M1034.4,1265.0 1037.5,1261.2 1042.5,1258.8 1050.0,1258.1 1052.5,1262.5 1048.8,1266.2 1045.0,1270.0 1040.0,1272.5 1036.2,1271.2Z" fill="#cdcdcb"><title>Alaska</title></path>
<path d="M1044.4,1255.0 1049.4,1249.4 1053.1,1252.5 1048.8,1256.2Z" fill="#cdcdcb"><title>Alaska</title></path>
<path d="M956.2,1296.2 958.8,1293.1 966.2,1291.0 970.6,1292.5 967.5,1295.6 960.0,1298.1Z" fill="#cdcdcb"><title>Alaska</title></path>
<path d="M938.1,1301.2 942.5,1301.2 945.0,1303.8 940.0,1307.5 931.9,1308.5 936.2,1305.6Z" fill="#cdcdcb"><title>Alaska</title></path>
<path d="M920.0,1311.2 926.2,1305.0 930.6,1304.8 930.0,1307.5 925.0,1310.0Z" fill="#cdcdcb"><title>Alaska</title></path>
<path d="M946.2,1300.0 948.8,1299.5 949.0,1301.2 946.9,1301.5Z" fill="#cdcdcb"><title>Alaska</title></path>
<path d="M1255.5,1194.1 1257.3,1189.8 1262.5,1187.0 1270.5,1187.3 1272.8,1189.8 1271.9,1196.9 1267.7,1200.2 1262.0,1199.2Z" fill="url(#h-db)"><title>Hawaii</title></path>
<path d="M1308.9,1211.7 1313.6,1210.9 1319.5,1206.9 1323.9,1213.3 1324.4,1216.6 1330.5,1222.2 1325.3,1223.6 1322.5,1221.7 1314.1,1221.7Z" fill="url(#h-db)"><title>Hawaii</title></path>
<path d="M1342.9,1229.5 1345.5,1225.2 1356.7,1227.3 1358.1,1231.4 1352.5,1229.7Z" fill="url(#h-db)"><title>Hawaii</title></path>
<path d="M1351.6,1236.9 1357.2,1236.4 1360.7,1240.5 1355.3,1243.0Z" fill="url(#h-db)"><title>Hawaii</title></path>
<path d="M1364.7,1235.8 1365.6,1233.4 1369.8,1233.0 1372.7,1236.7 1377.8,1235.1 1381.6,1236.2 1385.3,1240.0 1389.1,1241.4 1387.7,1246.6 1375.9,1249.2 1373.1,1247.0 1372.2,1241.4 1367.0,1240.0Z" fill="url(#h-db)"><title>Hawaii</title></path>
<path d="M1393.3,1265.3 1396.1,1261.1 1402.2,1264.8 1414.4,1269.1 1421.9,1275.6 1425.2,1283.1 1431.7,1288.3 1426.1,1294.8 1420.9,1297.7 1415.3,1298.6 1407.8,1303.3 1401.2,1311.7 1393.8,1307.5 1391.9,1302.8 1393.8,1297.2 1391.9,1288.8 1387.7,1280.3 1391.9,1276.6 1396.1,1268.6Z" fill="url(#h-db)"><title>Hawaii</title></path>
<path d="M2393.1,619.1 2395.3,613.8 2398.1,617.8Z" fill="url(#h-db)"><title>Rhode Island</title></path>
<path d="M2409.1,620.3 2413.8,614.4 2419.4,617.8Z" fill="#cdcdcb"><title>Massachusetts</title></path>
<path d="M2324.4,673.1 2325.6,670.3 2326.8,670.9 2325.3,673.8Z" fill="url(#h-gr)"><title>New York</title></path>
<path d="M1839.4,1159.1 1845.0,1157.6 1848.8,1159.5 1845.0,1162.9Z" fill="url(#h-db)"><title>Louisiana</title></path>
</g>
<g fill="none" stroke="#fff" stroke-width="2.6" stroke-linejoin="round" stroke-linecap="round">
<path d="M1184.5,365.2 1164.0,470.0 1163.0,477.0"/>
<path d="M987.0,421.0 993.8,423.8 1000.0,426.2 1007.5,432.5 1011.2,440.0 1012.5,450.0 1022.5,457.5 1035.0,456.2 1050.0,460.0 1062.5,465.0 1075.0,466.8 1090.0,465.0 1105.0,464.5 1115.0,466.2 1140.0,472.5 1163.0,477.0"/>
<path d="M1163.0,477.0 1166.2,483.8 1168.8,490.0 1165.0,500.0 1158.8,510.0 1152.5,520.0 1145.0,527.5 1141.2,535.0 1145.5,542.5 1142.5,550.0 1140.0,557.5 1126.2,621.2"/>
<path d="M1045.0,606.2 1085.0,614.5 1126.2,621.2"/>
<path d="M931.2,573.0 990.0,591.2 1045.0,606.2"/>
<path d="M1045.0,606.2 1018.0,712.5 1140.0,898.8"/>
<path d="M1140.0,898.8 1137.5,905.0 1142.5,912.5 1143.8,922.5 1147.5,930.0 1140.0,936.2 1133.8,942.5 1132.5,950.0 1126.2,958.8 1123.8,970.0 1126.2,975.0 1125.0,982.5 1118.8,985.0"/>
<path d="M1126.2,621.2 1165.0,632.5 1206.2,642.5"/>
<path d="M1206.2,642.5 1172.5,828.0"/>
<path d="M1140.0,898.8 1143.8,885.0 1145.0,870.0 1145.5,861.2 1150.0,857.0 1155.5,860.0 1158.8,863.8 1162.5,859.5 1166.2,851.2 1172.5,828.0"/>
<path d="M1209.0,369.9 1204.5,395.0 1202.5,410.0 1207.0,420.0 1208.8,431.2 1215.0,442.5 1222.5,455.0 1227.5,462.5 1235.0,467.5 1233.8,477.5 1227.5,485.0 1226.2,495.0 1222.5,500.0 1223.8,507.5 1230.0,508.8 1236.2,503.8 1240.0,517.5 1245.0,530.0 1243.8,537.5 1252.5,542.5 1255.0,552.5 1258.8,557.5 1270.0,553.8 1280.0,555.0 1290.0,557.5 1297.5,551.2 1304.2,558.0"/>
<path d="M1304.2,558.0 1290.0,656.2"/>
<path d="M1206.2,642.5 1247.5,650.5 1290.0,656.2"/>
<path d="M1507.0,413.9 1498.0,529.5"/>
<path d="M1498.0,529.5 1493.8,564.5"/>
<path d="M1304.2,558.0 1307.5,543.0 1400.0,555.5 1493.8,564.5"/>
<path d="M1493.8,564.5 1488.8,642.0"/>
<path d="M1488.8,642.0 1481.2,715.5"/>
<path d="M1338.8,703.8 1410.0,710.5 1481.2,715.5"/>
<path d="M1290.0,656.2 1283.8,691.2 1338.8,703.8"/>
<path d="M1318.8,852.5 1338.8,703.8"/>
<path d="M1172.5,828.0 1245.0,842.5 1318.8,852.5"/>
<path d="M1318.8,852.5 1289.5,1066.2"/>
<path d="M1481.2,715.5 1537.0,722.0 1535.5,760.0"/>
<path d="M1535.5,760.0 1529.2,873.0"/>
<path d="M1498.0,872.5 1529.2,873.0"/>
<path d="M1318.8,852.5 1415.0,865.0 1498.0,872.5"/>
<path d="M1498.0,872.5 1496.8,891.2"/>
<path d="M1369.5,1057.0 1371.2,1051.2 1484.5,1061.2 1496.8,891.2"/>
<path d="M1677.5,423.5 1680.0,440.0 1679.5,455.0 1683.8,470.0 1686.2,485.0 1687.0,500.0 1688.8,512.5 1692.5,525.0 1692.0,538.8"/>
<path d="M1498.0,529.5 1595.0,536.2 1692.0,538.8"/>
<path d="M1692.0,538.8 1691.2,545.0 1688.0,551.2 1692.5,560.0 1697.0,565.0 1697.5,630.0"/>
<path d="M1697.5,630.0 1693.8,640.0 1695.0,650.0 1692.5,660.0 1691.2,668.8"/>
<path d="M1488.8,642.0 1570.0,647.5 1637.5,650.0 1645.0,655.0 1653.8,658.8 1661.2,655.0 1671.2,655.5 1680.0,660.0 1687.5,665.0 1691.2,668.8"/>
<path d="M1691.2,668.8 1697.5,675.0 1700.0,687.5 1705.0,697.5 1707.5,710.0 1711.2,722.5 1712.5,735.0 1715.0,741.2"/>
<path d="M1715.0,741.2 1720.0,750.0 1723.8,758.8 1727.5,763.8"/>
<path d="M1535.5,760.0 1620.0,763.8 1727.5,763.8"/>
<path d="M1727.5,763.8 1736.2,770.0 1740.0,772.5 1734.5,780.0 1738.8,787.5 1745.0,793.8 1748.0,797.5 1748.8,878.8"/>
<path d="M1529.2,873.0 1645.0,878.0 1748.8,878.8"/>
<path d="M1748.8,878.8 1749.5,897.5"/>
<path d="M1749.5,897.5 1755.0,950.0 1756.2,1008.8"/>
<path d="M1496.8,891.2 1587.0,897.5 1585.0,968.8 1592.5,975.0 1602.5,976.2 1610.0,982.5 1620.0,985.0 1630.0,988.8 1640.0,987.5 1650.0,996.2 1660.0,995.0 1670.0,1000.0 1680.0,996.2 1690.0,1000.0 1697.5,1003.8 1707.5,998.8 1720.0,997.5 1732.5,1000.0 1742.5,1002.5 1756.2,1008.8"/>
<path d="M1756.2,1008.8 1767.5,1011.2 1768.8,1030.0"/>
<path d="M1768.8,1030.0 1770.0,1040.0 1771.2,1055.0 1775.0,1070.0 1784.2,1095.0 1788.0,1102.5 1787.6,1112.2 1782.4,1124.2 1783.1,1137.0 1782.8,1143.8 1777.5,1156.2"/>
<path d="M1807.0,509.5 1807.5,532.5 1795.0,542.5 1792.0,550.0 1797.5,560.0 1795.0,575.0 1800.0,585.0 1810.0,592.5 1817.5,600.0 1830.0,610.0 1836.2,620.0 1838.0,628.0"/>
<path d="M1697.5,630.0 1770.0,629.5 1838.0,628.0"/>
<path d="M1838.0,628.0 1842.5,640.0 1840.0,647.5 1850.0,660.0 1858.8,666.2"/>
<path d="M1858.8,666.2 1867.5,675.0 1871.2,685.0 1867.5,697.5 1855.0,703.8 1847.5,710.0 1846.2,718.8 1851.2,725.0 1848.8,735.0 1842.5,742.5 1837.0,746.2"/>
<path d="M1715.0,741.2 1770.0,740.5 1830.0,738.8 1837.0,746.2"/>
<path d="M1837.0,746.2 1838.8,757.5 1842.5,767.5 1850.0,777.5 1860.0,790.0 1863.8,798.8 1870.0,800.0 1877.5,805.0 1876.2,817.5 1880.0,827.5 1887.5,837.5 1895.0,842.5 1901.2,850.0 1902.5,860.0 1910.0,872.5 1913.8,876.2 1912.0,885.5"/>
<path d="M1912.0,885.5 1906.2,892.5"/>
<path d="M1906.2,892.5 1901.2,907.5 1897.5,912.0"/>
<path d="M1749.5,897.5 1820.0,895.0 1881.2,893.0 1886.2,898.8 1882.5,907.5 1879.5,912.5 1897.5,912.0"/>
<path d="M1897.5,912.0 1893.8,920.0 1895.0,928.8 1890.0,937.5 1887.5,946.2 1886.2,951.2"/>
<path d="M1886.2,951.2 1880.0,960.0 1875.0,970.0 1870.0,977.5 1867.5,987.5 1861.2,995.0 1862.5,1005.0 1857.5,1015.0 1860.0,1025.0 1861.2,1029.5"/>
<path d="M1768.8,1030.0 1820.0,1029.5 1861.2,1029.5"/>
<path d="M1861.2,1029.5 1862.5,1040.0 1867.5,1050.0 1863.8,1058.8 1860.0,1067.5 1856.2,1077.5 1852.5,1087.5 1849.5,1103.6 1911.8,1102.1 1909.5,1113.8 1915.1,1125.0 1918.8,1126.2"/>
<path d="M1855.9,510.8 1859.2,515.0 1862.0,519.7 1872.8,522.0 1886.9,524.4 1892.5,526.7 1905.6,529.5 1915.9,531.4 1917.8,535.6 1924.4,539.4 1925.8,545.0 1925.3,551.6 1928.1,553.4 1929.1,558.1 1927.2,554.1 1930.0,555.0 1930.9,562.0"/>
<path d="M1858.8,666.2 1935.2,660.8"/>
<path d="M2021.2,680.0 2058.8,675.0"/>
<path d="M1968.8,685.5 2021.2,680.0"/>
<path d="M1947.0,690.0 1952.5,777.5 1954.5,790.0 1951.2,802.5 1945.0,820.0 1943.0,836.2"/>
<path d="M1943.0,836.2 1943.8,845.0 1941.2,852.5 1933.8,858.8 1930.0,866.2 1920.0,865.0 1916.2,872.5 1912.0,885.5"/>
<path d="M2021.2,680.0 2033.0,780.5"/>
<path d="M1943.0,836.2 1952.5,835.0 1962.5,832.5 1971.2,836.2 1980.0,832.5 1985.5,826.2 1992.5,828.8 1995.0,822.5 2005.0,823.8 2006.2,816.2 2015.0,810.0 2018.8,800.0 2027.5,797.5 2033.8,790.0 2033.0,780.5"/>
<path d="M2138.2,655.0 2145.0,708.8"/>
<path d="M2100.0,798.0 2106.2,796.2 2110.0,785.0 2113.8,777.5 2120.0,778.8 2120.0,770.0 2127.5,760.0 2135.0,753.8 2142.5,742.5 2146.2,727.5 2145.0,708.8"/>
<path d="M2033.0,780.5 2042.5,781.2 2050.0,788.8 2060.0,791.2 2070.0,792.5 2080.0,790.0 2090.0,788.8 2095.0,795.0 2100.0,798.0"/>
<path d="M2100.0,798.0 2101.2,806.2 2106.2,815.0 2112.5,822.5 2121.2,830.0"/>
<path d="M2121.2,830.0 2112.5,840.0 2105.0,850.0 2095.0,860.0 2090.0,865.0 2080.0,868.8"/>
<path d="M2080.0,868.8 2020.0,875.0 1947.5,882.0 1946.2,888.0 1906.2,892.5"/>
<path d="M2080.0,868.8 2137.5,862.5"/>
<path d="M2137.5,862.5 2135.0,870.0 2125.0,882.5 2115.0,888.8 2105.0,897.5 2095.0,905.0 2080.0,912.5 2072.5,920.0 2066.2,927.5 2065.5,933.8"/>
<path d="M2065.5,933.8 2027.5,940.0"/>
<path d="M2027.5,940.0 1948.8,946.8"/>
<path d="M1886.2,951.2 1948.8,946.8"/>
<path d="M1948.8,946.8 1948.8,1040.0 1951.2,1077.5 1955.0,1121.2"/>
<path d="M2027.5,940.0 2045.0,1000.0 2057.0,1050.0 2061.2,1077.5 2063.8,1088.8"/>
<path d="M1982.5,1123.8 1985.5,1112.5 1980.0,1102.5 1981.2,1097.0 2063.8,1088.8"/>
<path d="M2065.5,933.8 2098.8,930.0"/>
<path d="M2098.8,930.0 2097.5,938.8 2110.0,950.0 2120.0,962.5 2132.5,972.5 2147.5,987.5 2160.0,997.5 2170.0,1012.5 2180.0,1027.5 2190.0,1030.0"/>
<path d="M2063.8,1088.8 2068.8,1097.0 2155.0,1091.2 2157.5,1100.0 2160.0,1099.2 2161.2,1085.0 2178.8,1082.5"/>
<path d="M2098.8,930.0 2110.0,923.8 2125.0,918.0 2165.0,915.0 2172.5,925.0 2207.5,921.2 2247.5,950.0"/>
<path d="M2137.5,862.5 2220.0,850.0 2310.0,833.0"/>
<path d="M2234.7,740.6 2233.2,747.8 2218.0,738.8 2216.2,750.0 2211.2,762.5 2205.0,765.0 2200.0,775.0 2195.0,783.8 2185.0,778.8 2182.5,790.0 2177.5,805.0 2175.0,817.5 2167.5,826.2 2157.5,827.5 2147.5,835.0 2140.0,833.8 2135.0,838.8 2127.5,836.2 2121.2,830.0"/>
<path d="M2234.7,740.6 2243.1,743.1 2244.4,747.5 2255.0,751.9 2260.6,754.4 2257.5,762.5 2255.0,765.0 2253.8,770.0 2255.0,773.1 2261.2,770.6 2263.8,773.8 2266.2,772.5 2269.4,776.9 2276.2,776.9 2283.1,779.1"/>
<path d="M2302.8,779.5 2304.1,777.5 2315.6,773.8"/>
<path d="M2145.0,708.8 2151.2,738.8 2182.5,735.0"/>
<path d="M2182.5,735.0 2185.0,752.5 2195.0,742.5 2202.5,738.8 2210.0,736.2 2216.2,730.0 2227.5,731.2 2230.3,730.9 2232.5,735.6 2234.7,740.6"/>
<path d="M2182.5,735.0 2287.2,714.4"/>
<path d="M2287.2,714.4 2298.8,760.0 2317.4,756.2"/>
<path d="M2287.2,714.4 2289.4,711.9 2291.9,710.3 2294.4,710.5"/>
<path d="M2157.5,638.8 2158.8,648.8 2278.1,626.6 2287.5,631.2 2290.6,635.0 2291.2,638.8 2296.9,643.8 2300.9,646.2"/>
<path d="M2300.9,646.2 2298.8,653.8 2295.6,663.1 2296.9,666.2 2295.3,670.0 2296.2,675.6 2300.0,678.8 2301.2,683.1 2311.9,691.2 2309.4,695.0 2305.0,700.0 2303.8,701.2 2301.9,705.0 2296.9,708.1 2294.4,710.5"/>
<path d="M2300.9,646.2 2328.1,655.3"/>
<path d="M2307.5,503.8 2313.8,530.0 2313.4,540.0 2318.8,549.4 2324.1,556.2 2326.2,568.1 2330.0,585.0"/>
<path d="M2330.0,585.0 2329.4,612.5"/>
<path d="M2329.4,612.5 2333.1,628.8 2337.2,644.1 2331.9,649.9 2335.0,653.8"/>
<path d="M2353.8,491.8 2357.5,502.5 2355.0,515.0 2348.8,525.0 2348.8,540.0 2346.6,548.8 2345.3,550.3 2346.9,558.8 2347.8,565.6 2349.4,570.6 2347.5,574.1 2348.1,577.5 2350.0,580.3"/>
<path d="M2330.0,585.0 2350.0,580.3"/>
<path d="M2363.8,477.5 2383.1,540.0 2385.0,548.1 2390.0,551.2 2391.2,555.0 2395.0,557.2"/>
<path d="M2350.0,580.3 2381.9,573.1 2390.0,565.0 2394.4,563.8"/>
<path d="M2376.9,604.7 2386.9,601.6 2390.3,609.7"/>
<path d="M2329.4,612.5 2376.9,604.7"/>
<path d="M2376.9,604.7 2381.2,628.2"/>
</g>
<g fill="#fff" stroke="none">
<path d="M2255.0,773.4 2261.2,770.8 2263.8,773.9 2266.2,772.6 2269.4,777.0 2276.2,777.0 2283.1,779.1 2288.1,785.3 2279.4,781.9 2275.6,778.8 2269.4,778.8 2263.8,775.6 2262.5,772.5 2255.0,773.9Z"/>
<path d="M1682.3,1206.7 1687.0,1209.5 1683.8,1213.8Z"/>
<path d="M1669.2,1218.0 1673.9,1215.6 1677.2,1219.4 1673.4,1220.1Z"/>
<path d="M1658.4,1227.8 1666.9,1225.9 1670.6,1226.4 1665.9,1233.0Z"/>
<path d="M1653.8,1248.0 1657.5,1245.6 1661.2,1247.0 1658.4,1249.8Z"/>
</g>
<circle cx="2257.8" cy="752.2" r="2.1" fill="#004b87" stroke="#fff" stroke-width="1.4"><title>District of Columbia</title></circle>
<g fill="none" stroke="#fff" stroke-linejoin="round" stroke-linecap="round">
<path stroke-width="1.3" d="M1165.0,1227.5 1172.5,1240.0 1180.0,1257.5"/>
<path stroke-width="1.3" d="M1171.2,1235.0 1178.8,1247.5 1192.5,1252.5 1205.0,1263.8"/>
<path stroke-width="1.3" d="M1083.8,1220.0 1080.0,1231.2"/>
<path stroke-width="1.6" d="M2269.4,786.2 2276.2,791.2 2281.2,796.2 2287.2,798.9"/>
<path stroke-width="1.8" d="M2273.8,813.3 2281.9,815.9 2282.8,819.1 2290.6,823.1"/>
<path stroke-width="1.1" d="M1666.1,1280.8 1662.4,1267.2 1661.7,1253.1 1664.2,1242.3 1668.9,1232.0 1674.4,1223.1 1681.9,1215.6 1687.5,1210.9"/>
</g>

</svg>
</body>
</html>
